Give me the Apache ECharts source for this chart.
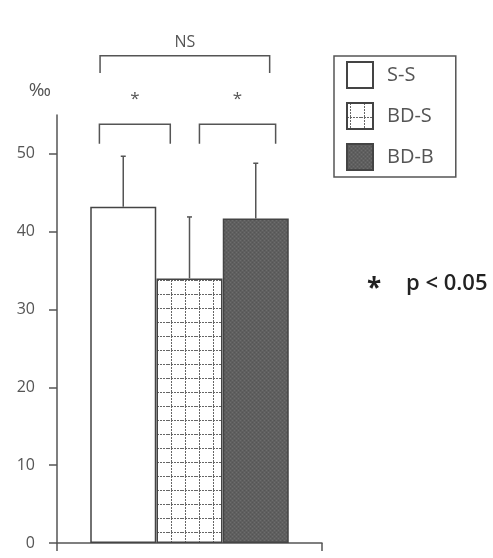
<!DOCTYPE html>
<html>
<head>
<meta charset="utf-8">
<script src="https://cdn.jsdelivr.net/npm/echarts@6/dist/echarts.min.js"></script>
<style>
  html, body { margin: 0; padding: 0; background: #fff; }
  #chart { width: 493px; height: 558px; }
</style>
</head>
<body>
<div id="chart"></div>
<script>
// groups and values
const categories = ['S-S', 'BD-S', 'BD-B'];
const positions = [1, 2, 3];
const means = [43.2, 34.0, 41.7];
const upperErr = [49.7, 41.9, 48.8];
const yTicks = [0, 10, 20, 30, 40, 50];

// brackets: [from x, to x, top y, leg end y, label, label y]
const brackets = [
  [0.65, 3.21, 62.6, 60.4, 'NS', 64.3],
  [0.64, 1.71, 53.8, 51.3, '*', 57.0],
  [2.15, 3.30, 53.8, 51.3, '*', 57.0]
];

const lineColor = '#555';

// dotted grid tile for BD-S
function gridPattern() {
  const c = document.createElement('canvas');
  c.width = 14; c.height = 14;
  const g = c.getContext('2d');
  g.fillStyle = '#fff';
  g.fillRect(0, 0, 14, 14);
  g.strokeStyle = '#666';
  g.lineWidth = 1;
  g.setLineDash([2, 1]);
  g.beginPath();
  g.moveTo(3.5, 0); g.lineTo(3.5, 14);
  g.moveTo(0, 0.5); g.lineTo(14, 0.5);
  g.stroke();
  return c;
}

// stippled dark tile for BD-B
function darkPattern() {
  const c = document.createElement('canvas');
  c.width = 4; c.height = 4;
  const g = c.getContext('2d');
  g.fillStyle = '#5f5f5f';
  g.fillRect(0, 0, 4, 4);
  g.fillStyle = '#6d6d6d';
  g.fillRect(0, 0, 1, 1);
  g.fillRect(2, 2, 1, 1);
  g.fillStyle = '#555';
  g.fillRect(2, 0, 1, 1);
  g.fillRect(0, 2, 1, 1);
  return c;
}

const fills = [
  '#ffffff',
  { image: gridPattern(), repeat: 'repeat' },
  { image: darkPattern(), repeat: 'repeat' }
];

const chart = echarts.init(document.getElementById('chart'));

const barSeries = categories.map((name, i) => ({
  name: name,
  type: 'bar',
  barWidth: 66,
  barGap: '-100%',
  data: [[positions[i], means[i]]],
  itemStyle: {
    color: fills[i],
    borderColor: '#444',
    borderWidth: 1.5
  },
  z: 2
}));

const option = {
  animation: false,
  textStyle: { fontFamily: 'Open Sans' },
  grid: { left: 57, right: 171, top: 115, bottom: 15, containLabel: false },
  legend: {
    data: categories,
    orient: 'vertical',
    left: 334,
    top: 56,
    padding: [5, 22, 6, 12],
    itemWidth: 26,
    itemHeight: 26,
    itemGap: 13,
    icon: 'rect',
    borderColor: lineColor,
    borderWidth: 1.5,
    textStyle: { color: lineColor, fontSize: 20, padding: [0, 0, 0, 9] }
  },
  xAxis: {
    type: 'value',
    min: 0,
    max: 4,
    interval: 4,
    axisLine: { show: true, lineStyle: { color: lineColor, width: 1.5 } },
    axisTick: { show: true, length: 8, lineStyle: { color: lineColor, width: 1.5 } },
    axisLabel: { show: false },
    splitLine: { show: false }
  },
  yAxis: {
    type: 'value',
    min: 0,
    max: 55,
    name: '‰',
    nameLocation: 'end',
    nameGap: 24,
    nameTextStyle: { color: lineColor, fontSize: 19, align: 'right', verticalAlign: 'middle', padding: [0, 6, 0, 0] },
    axisLine: { show: true, lineStyle: { color: lineColor, width: 1.5 } },
    axisTick: { show: true, length: 8, customValues: yTicks, lineStyle: { color: lineColor, width: 1.5 } },
    axisLabel: { customValues: yTicks, color: lineColor, fontSize: 16, margin: 22 },
    splitLine: { show: false }
  },
  series: [
    ...barSeries,
    {
      type: 'custom',
      z: 3,
      data: positions.map((p, i) => [p, means[i], upperErr[i]]),
      renderItem: (params, api) => {
        const base = api.coord([api.value(0), api.value(1)]);
        const top = api.coord([api.value(0), api.value(2)]);
        return {
          type: 'group',
          children: [
            { type: 'line', shape: { x1: base[0], y1: base[1], x2: top[0], y2: top[1] },
              style: { stroke: lineColor, lineWidth: 1.5 } },
            { type: 'line', shape: { x1: top[0] - 2.5, y1: top[1], x2: top[0] + 2.5, y2: top[1] },
              style: { stroke: lineColor, lineWidth: 1.5 } }
          ]
        };
      }
    },
    {
      type: 'custom',
      clip: false,
      z: 3,
      data: brackets,
      renderItem: (params, api) => {
        const a = api.coord([api.value(0), api.value(2)]);
        const b = api.coord([api.value(1), api.value(2)]);
        const legY = api.coord([api.value(0), api.value(3)])[1];
        const txt = api.coord([(api.value(0) + api.value(1)) / 2, api.value(5)]);
        const label = brackets[params.dataIndex][4];
        return {
          type: 'group',
          children: [
            { type: 'polyline', shape: { points: [[a[0], legY], a, b, [b[0], legY]] },
              style: { stroke: lineColor, lineWidth: 1.5, fill: null } },
            { type: 'text', x: txt[0], y: txt[1],
              style: { text: label, fill: lineColor, fontSize: label === 'NS' ? 16 : 17,
                       fontFamily: 'Open Sans', align: 'center', verticalAlign: 'middle' } }
          ]
        };
      }
    }
  ],
  graphic: [
    { type: 'text', left: 367, top: 277,
      style: { text: '*', fill: '#222', fontSize: 26, fontWeight: 'bold', fontFamily: 'Open Sans' } },
    { type: 'text', left: 406, top: 273,
      style: { text: 'p < 0.05', fill: '#222', fontSize: 22, fontWeight: 600, fontFamily: 'Open Sans' } }
  ]
};

chart.setOption(option);
</script>
</body>
</html>
